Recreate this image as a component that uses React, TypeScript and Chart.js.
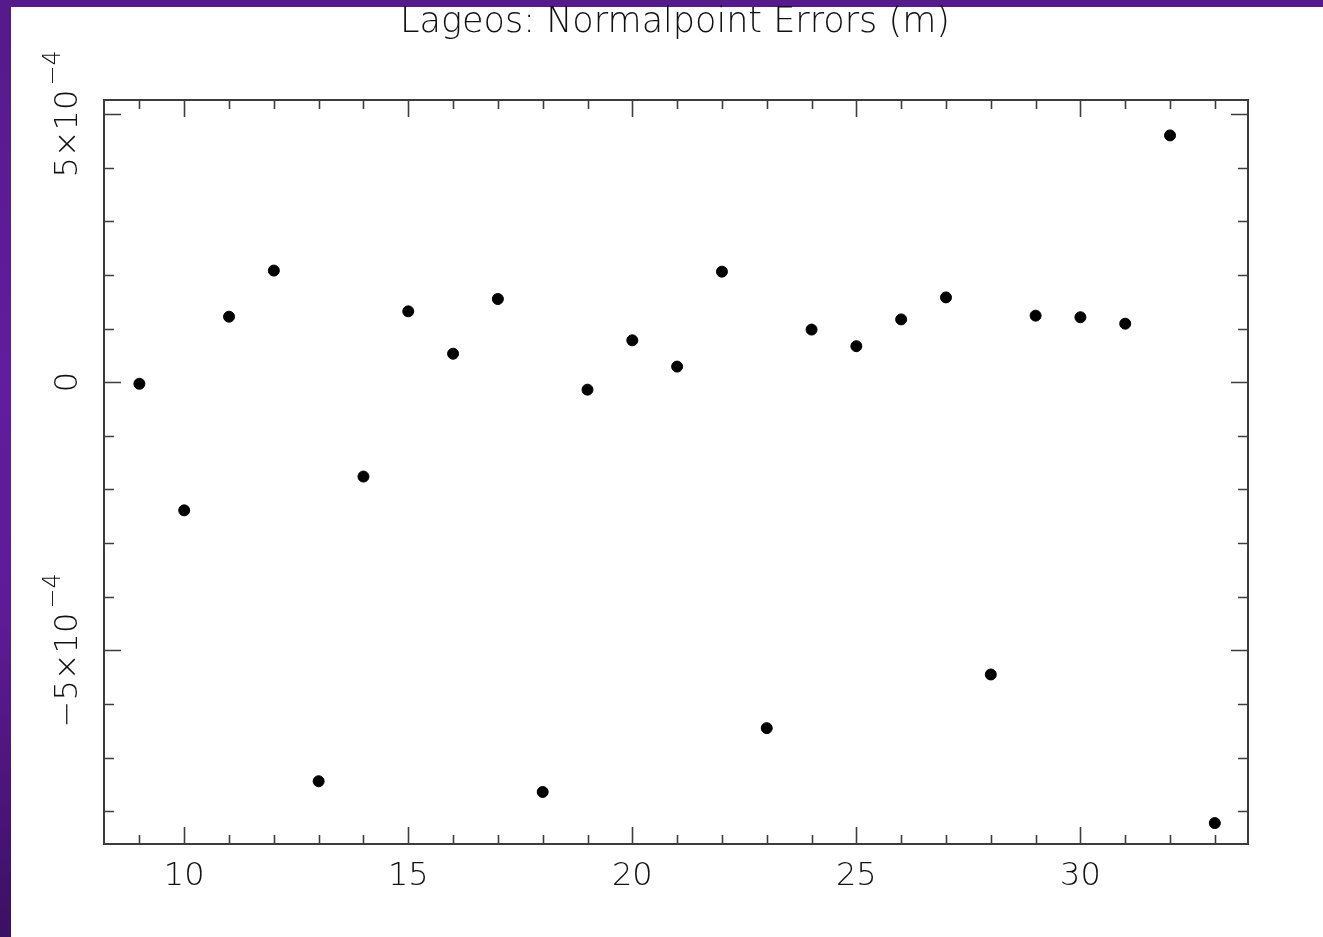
import React, { useEffect, useRef } from "react";
import { Chart, registerables } from "chart.js";

Chart.register(...registerables);

const TITLE = "Lageos: Normalpoint Errors (m)";
const X_VALUES = [9, 10, 11, 12, 13, 14, 15, 16, 17, 18, 19, 20, 21, 22, 23, 24, 25, 26, 27, 28, 29, 30, 31, 32, 33];
const Y_VALUES = [
  -0.03e-4, -2.39e-4, 1.22e-4, 2.08e-4, -7.44e-4, -1.76e-4, 1.32e-4, 0.53e-4, 1.55e-4, -7.64e-4,
  -0.14e-4, 0.78e-4, 0.29e-4, 2.06e-4, -6.45e-4, 0.98e-4, 0.67e-4, 1.17e-4, 1.58e-4, -5.45e-4,
  1.24e-4, 1.21e-4, 1.09e-4, 4.6e-4, -8.22e-4,
];
const X_MIN = 8.21;
const X_MAX = 33.74;
const Y_MIN = -8.61e-4;
const Y_MAX = 5.26e-4;
const X_MAJOR_TICKS = [10, 15, 20, 25, 30];
const X_MAJOR_LABELS = ["10", "15", "20", "25", "30"];
const X_MINOR_TICKS = [9, 11, 12, 13, 14, 16, 17, 18, 19, 21, 22, 23, 24, 26, 27, 28, 29, 31, 32, 33];
const Y_MAJOR_TICKS = [5e-4, 0, -5e-4];
const Y_MAJOR_LABELS = [
  { main: "5×10", sup: "−4" },
  { main: "0", sup: "" },
  { main: "−5×10", sup: "−4" },
];
const Y_MINOR_TICKS = [4e-4, 3e-4, 2e-4, 1e-4, -1e-4, -2e-4, -3e-4, -4e-4, -6e-4, -7e-4, -8e-4];

const FONT = '"DejaVu Sans", sans-serif';
const FRAME = "#3c3c3c";

const framePlugin = {
  id: "pgframe",
  afterDatasetsDraw(chart: any) {
    const { ctx, chartArea: a, scales } = chart;
    const xs = scales.x;
    const ys = scales.y;
    ctx.save();
    ctx.strokeStyle = FRAME;
    ctx.lineWidth = 2;
    ctx.strokeRect(a.left, a.top, a.right - a.left, a.bottom - a.top);
    ctx.lineWidth = 1.6;
    const vtick = (v: number, len: number) => {
      const px = Math.round(xs.getPixelForValue(v)) + 0.5;
      ctx.beginPath();
      ctx.moveTo(px, a.bottom);
      ctx.lineTo(px, a.bottom - len);
      ctx.moveTo(px, a.top);
      ctx.lineTo(px, a.top + len);
      ctx.stroke();
    };
    const htick = (v: number, len: number) => {
      const py = Math.round(ys.getPixelForValue(v)) + 0.5;
      ctx.beginPath();
      ctx.moveTo(a.left, py);
      ctx.lineTo(a.left + len, py);
      ctx.moveTo(a.right, py);
      ctx.lineTo(a.right - len, py);
      ctx.stroke();
    };
    X_MAJOR_TICKS.forEach((v) => vtick(v, 17));
    X_MINOR_TICKS.forEach((v) => vtick(v, 9));
    Y_MAJOR_TICKS.forEach((v) => htick(v, 17));
    Y_MINOR_TICKS.forEach((v) => htick(v, 10));

    ctx.fillStyle = "#111111";
    ctx.textAlign = "center";
    ctx.textBaseline = "middle";
    ctx.font = `200 32px ${FONT}`;
    X_MAJOR_TICKS.forEach((v, i) => {
      ctx.fillText(X_MAJOR_LABELS[i], xs.getPixelForValue(v), 877);
    });
    ctx.font = `200 35px ${FONT}`;
    ctx.fillText(TITLE, 675, 23);

    Y_MAJOR_TICKS.forEach((v, i) => {
      const lab = Y_MAJOR_LABELS[i];
      const py = ys.getPixelForValue(v);
      ctx.save();
      ctx.translate(69, py);
      ctx.rotate(-Math.PI / 2);
      ctx.font = `200 32px ${FONT}`;
      const wMain = ctx.measureText(lab.main).width;
      ctx.font = `200 24px ${FONT}`;
      const wSup = lab.sup ? ctx.measureText(lab.sup).width + 4 : 0;
      const start = -(wMain + wSup) / 2;
      ctx.textAlign = "left";
      ctx.font = `200 32px ${FONT}`;
      ctx.fillText(lab.main, start, 0);
      if (lab.sup) {
        ctx.font = `200 24px ${FONT}`;
        ctx.fillText(lab.sup, start + wMain + 4, -15);
      }
      ctx.restore();
    });
    ctx.restore();
  },
};

export default function App() {
  const ref = useRef<HTMLCanvasElement | null>(null);
  useEffect(() => {
    if (!ref.current) return;
    const points = X_VALUES.map((x, i) => ({ x, y: Y_VALUES[i] }));
    const chart = new Chart(ref.current, {
      type: "scatter",
      data: {
        datasets: [
          {
            data: points,
            backgroundColor: "#000000",
            borderColor: "#000000",
            borderWidth: 1,
            pointRadius: 5.5,
            pointStyle: "circle",
          },
        ],
      },
      options: {
        animation: false,
        responsive: false,
        maintainAspectRatio: false,
        layout: { padding: { left: 104, top: 100, right: 75, bottom: 93 } },
        plugins: { legend: { display: false }, tooltip: { enabled: false }, title: { display: false } },
        scales: {
          x: { type: "linear", min: X_MIN, max: X_MAX, display: false },
          y: { type: "linear", min: Y_MIN, max: Y_MAX, display: false },
        },
      },
      plugins: [framePlugin],
    });
    return () => chart.destroy();
  }, []);

  return (
    <div
      style={{
        position: "fixed",
        left: 0,
        top: 0,
        width: 1323,
        height: 937,
        background: "linear-gradient(to bottom, #551a8b 0%, #621c9e 40%, #5e1b98 65%, #3c1062 100%)",
        overflow: "hidden",
      }}
    >
      <div style={{ position: "absolute", left: 11, top: 7, width: 1312, height: 930, background: "#ffffff" }} />
      <canvas ref={ref} width={1323} height={937} style={{ position: "absolute", left: 0, top: 0, width: 1323, height: 937 }} />
    </div>
  );
}
